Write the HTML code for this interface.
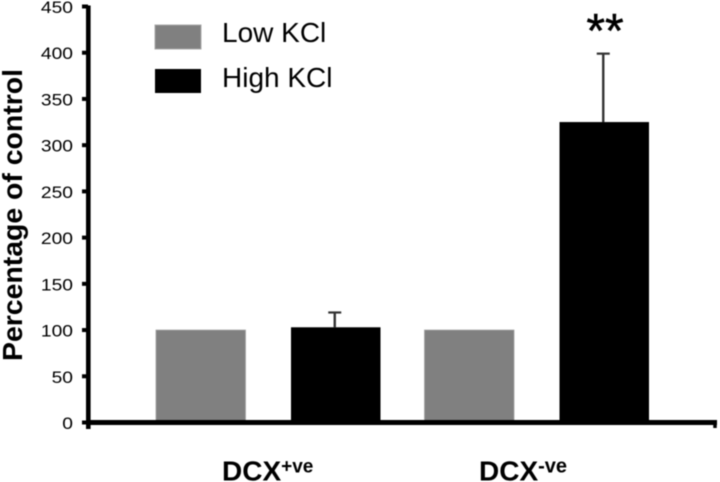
<!DOCTYPE html>
<html>
<head>
<meta charset="utf-8">
<style>
html,body{margin:0;padding:0;background:#fff;width:720px;height:482px;overflow:hidden}
svg{display:block;font-family:"Liberation Sans",sans-serif;filter:blur(0.4px)}
</style>
</head>
<body>
<svg id="chart" width="720" height="482" viewBox="0 0 720 482" xmlns="http://www.w3.org/2000/svg">
  <rect width="720" height="482" fill="#fff"/>
  <g id="marks"></g>
  <g id="axes"></g>
  <text transform="translate(22,361) rotate(-90)" font-size="28" font-weight="bold" textLength="292" lengthAdjust="spacingAndGlyphs">Percentage of control</text>
  <text x="222" y="480.5" font-size="28" font-weight="bold">DCX<tspan font-size="19" dy="-8">+ve</tspan></text>
  <text x="479" y="480.5" font-size="28" font-weight="bold">DCX<tspan font-size="20" dy="-8">-ve</tspan></text>
  <text x="605" y="47" font-size="48" text-anchor="middle" stroke="#000" stroke-width="0.5">**</text>
  <rect x="155" y="25" width="46" height="24" fill="#808080" stroke="#a8a8a8" stroke-width="1"/>
  <text x="222" y="42" font-size="28">Low KCl</text>
  <rect x="155" y="69" width="46" height="24" fill="#000"/>
  <text x="222" y="87" font-size="28">High KCl</text>
</svg>
<script>
var categories = ["DCX+ve", "DCX-ve"];
var lowKcl = [100, 100];
var highKcl = [103, 325];
var lowKclError = [0, 0];
var highKclError = [16, 74];
var yTicks = [0, 50, 100, 150, 200, 250, 300, 350, 400, 450];

var NS = "http://www.w3.org/2000/svg";
function yScale(v) { return 422.5 - v * (416 / 450); }
function groupLeft(i) { return 156 + i * 268.5; }
var barWidth = 89.5;
var groupOffset = 135;

function make(tag, attrs, parent) {
  var el = document.createElementNS(NS, tag);
  for (var k in attrs) el.setAttribute(k, attrs[k]);
  parent.appendChild(el);
  return el;
}
var marks = document.getElementById("marks");
var axes = document.getElementById("axes");

categories.forEach(function (c, i) {
  var x1 = groupLeft(i);
  var low = make("rect", {x: x1, y: yScale(lowKcl[i]), width: barWidth, height: yScale(0) - yScale(lowKcl[i]), fill: "#808080", stroke: "#a0a0a0", "stroke-width": 0.8}, marks);
  
  
  var x2 = x1 + groupOffset;
  var cx = x2 + barWidth / 2 - 1;
  var top = yScale(highKcl[i] + highKclError[i]);
  var errLine = make("line", {x1: cx, x2: cx, y1: top, y2: yScale(highKcl[i]), stroke: "#333", "stroke-width": 2.4}, marks);
  
  
  var errCap = make("line", {x1: cx - 6.5, x2: cx + 6.5, y1: top, y2: top, stroke: "#333", "stroke-width": 2.2}, marks);
  
  
  var high = make("rect", {x: x2, y: yScale(highKcl[i]), width: barWidth, height: yScale(0) - yScale(highKcl[i]), fill: "#000"}, marks);
  
  
});

var yAxis = make("line", {x1: 88.3, x2: 88.3, y1: yScale(450) - 1, y2: 429, stroke: "#000", "stroke-width": 4.6}, axes);


var xAxis = make("line", {x1: 86, x2: 717, y1: 422.5, y2: 422.5, stroke: "#000", "stroke-width": 5}, axes);


var xEnd = make("line", {x1: 715, x2: 715, y1: 420, y2: 428, stroke: "#000", "stroke-width": 3.5}, axes);



yTicks.forEach(function (t) {
  var y = yScale(t);
  var tick = make("line", {x1: 82, x2: 88, y1: y, y2: y, stroke: "#000", "stroke-width": 4}, axes);
  
  
  var s = String(t);
  var label = make("text", {x: 73, y: y + 6.5, "font-size": 17, "text-anchor": "end", fill: "#000", textLength: s.length * 10.7, lengthAdjust: "spacingAndGlyphs"}, axes);
  label.textContent = s;
  
  
});
</script>
</body>
</html>
